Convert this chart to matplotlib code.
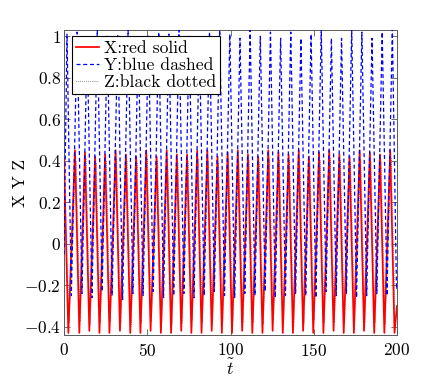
import matplotlib
matplotlib.use("Agg")
import matplotlib.pyplot as plt
from matplotlib.ticker import FixedLocator, FixedFormatter

plt.rcParams['font.family'] = ['cmr10', 'DejaVu Serif']
plt.rcParams['mathtext.fontset'] = 'cm'
plt.rcParams['axes.unicode_minus'] = False

# ---- data (extrema of each oscillation) ----
x_start = [0.0, 0.41]
x_peak_t = [6.6, 12.6, 18.7, 24.7, 31.0, 37.2, 43.3, 49.4, 55.6, 61.7, 67.8, 73.9,
            80.0, 86.1, 92.2, 98.3, 104.4, 110.5, 116.6, 122.7, 128.8, 134.9,
            141.0, 147.1, 153.2, 159.3, 165.4, 171.5, 177.6, 183.7, 189.8, 195.9]
x_peak_v = [0.45, 0.44, 0.42, 0.43, 0.45, 0.43, 0.42, 0.45, 0.42, 0.45, 0.43, 0.43,
            0.45, 0.45, 0.42, 0.44, 0.45, 0.43, 0.42, 0.45, 0.44, 0.43,
            0.45, 0.42, 0.44, 0.45, 0.43, 0.42, 0.45, 0.44, 0.43, 0.45]
x_trough_t = [2.6, 9.2, 15.2, 21.3, 27.3, 33.6, 39.8, 45.9, 52.0, 58.2, 64.3, 70.4,
              76.5, 82.6, 88.7, 94.8, 100.9, 107.0, 113.1, 119.2, 125.3, 131.4,
              137.5, 143.6, 149.7, 155.8, 161.9, 168.0, 174.1, 180.2, 186.3, 192.4, 198.5]
x_trough_v = [-0.43, -0.43, -0.42, -0.43, -0.43, -0.42, -0.43, -0.43, -0.42, -0.43, -0.43,
              -0.42, -0.43, -0.43, -0.42, -0.43, -0.43, -0.42, -0.43, -0.43, -0.42,
              -0.43, -0.43, -0.42, -0.43, -0.43, -0.42, -0.43, -0.43, -0.42, -0.43,
              -0.43, -0.43]
x_end = [200.0, -0.30]

y_start = [0.0, -0.05]
y_peak_t = [1.8, 7.9, 13.9, 20.0, 26.0, 32.3, 38.5, 44.6, 50.7, 56.9, 63.0, 69.1, 75.2,
            81.3, 87.4, 93.5, 99.6, 105.7, 111.8, 117.9, 124.0, 130.1, 136.2,
            142.3, 148.4, 154.5, 160.6, 166.7, 172.8, 178.9, 185.0, 191.1, 197.2]
y_peak_v = [1.01, 1.02, 0.99, 1.03, 1.00, 1.01, 1.03, 0.99, 1.00, 1.02, 1.01, 1.03, 1.00,
            0.99, 1.02, 1.03, 1.01, 0.99, 1.03, 1.00, 1.02, 0.99, 1.02,
            0.99, 1.01, 1.035, 0.99, 0.99, 1.03, 1.02, 0.99, 1.02, 1.035]
y_trough_t = [4.4, 10.8, 16.8, 22.9, 28.9, 35.2, 41.4, 47.5, 53.6, 59.8, 65.9, 72.0,
              78.1, 84.2, 90.3, 96.4, 102.5, 108.6, 114.7, 120.8, 126.9, 133.0,
              139.1, 145.2, 151.3, 157.4, 163.5, 169.6, 175.7, 181.8, 187.9, 194.0, 199.7]
y_trough_v = [-0.25, -0.24, -0.26, -0.23, -0.25, -0.27, -0.24, -0.25, -0.23, -0.26, -0.25,
              -0.24, -0.26, -0.25, -0.23, -0.25, -0.26, -0.24, -0.25, -0.23, -0.26,
              -0.25, -0.24, -0.25, -0.26, -0.23, -0.25, -0.24, -0.26, -0.25, -0.24,
              -0.25, -0.22]
y_end = [200.0, -0.21]

z_start = [0.0, 0.38]
z_peak_t = [7.2, 13.2, 19.3, 25.3, 31.6, 37.8, 43.9, 50.0, 56.2, 62.3, 68.4, 74.5,
            80.6, 86.7, 92.8, 98.9, 105.0, 111.1, 117.2, 123.3, 129.4, 135.5,
            141.6, 147.7, 153.8, 159.9, 166.0, 172.1, 178.2, 184.3, 190.4, 196.5]
z_peak_v = [0.40, 0.41, 0.39, 0.40, 0.41, 0.40, 0.39, 0.41, 0.40, 0.41, 0.39, 0.40,
            0.41, 0.40, 0.39, 0.41, 0.40, 0.40, 0.39, 0.41, 0.40, 0.40,
            0.41, 0.39, 0.40, 0.41, 0.40, 0.39, 0.41, 0.40, 0.40, 0.41]
z_trough_t = [3.1, 9.7, 15.7, 21.8, 27.8, 34.1, 40.3, 46.4, 52.5, 58.7, 64.8, 70.9,
              77.0, 83.1, 89.2, 95.3, 101.4, 107.5, 113.6, 119.7, 125.8, 131.9,
              138.0, 144.1, 150.2, 156.3, 162.4, 168.5, 174.6, 180.7, 186.8, 192.9, 199.0]
z_trough_v = [-0.38, -0.37, -0.39, -0.38, -0.37, -0.38, -0.39, -0.38, -0.37, -0.38, -0.39,
              -0.38, -0.37, -0.38, -0.39, -0.38, -0.37, -0.38, -0.38, -0.39, -0.37,
              -0.38, -0.38, -0.39, -0.37, -0.38, -0.38, -0.39, -0.37, -0.38, -0.38,
              -0.39, -0.38]
z_end = [200.0, -0.30]

series_labels = ["X:red solid", "Y:blue dashed", "Z:black dotted"]
x_ticks = [0, 50, 100, 150, 200]
x_tick_labels = ["$0$", "$50$", "$100$", "$150$", "$200$"]
y_ticks = [-0.4, -0.2, 0, 0.2, 0.4, 0.6, 0.8, 1.0]
y_tick_labels = ["$-0.4$", "$-0.2$", "$0$", "$0.2$", "$0.4$", "$0.6$", "$0.8$", "$1$"]
x_label = r"$\tilde{t}$"
y_label = "X Y Z"


def assemble(start, pt, pv, tt, tv, end):
    pts = [tuple(start)] + list(zip(pt, pv)) + list(zip(tt, tv)) + [tuple(end)]
    pts.sort(key=lambda p: p[0])
    return [p[0] for p in pts], [p[1] for p in pts]


tx, vx = assemble(x_start, x_peak_t, x_peak_v, x_trough_t, x_trough_v, x_end)
ty, vy = assemble(y_start, y_peak_t, y_peak_v, y_trough_t, y_trough_v, y_end)
tz, vz = assemble(z_start, z_peak_t, z_peak_v, z_trough_t, z_trough_v, z_end)

fig = plt.figure(figsize=(4.36, 3.78), dpi=100)
ax = fig.add_axes([64 / 436, 1 - 335 / 378, (397 - 64) / 436, (335 - 30) / 378])

ax.plot(tx, vx, color=(1, 0, 0), lw=1.25, ls='-', label=series_labels[0], zorder=3)
ax.plot(ty, vy, color=(0, 0, 1), lw=0.9, ls=(0, (3.2, 2.2)), label=series_labels[1], zorder=4)
ax.plot(tz, vz, color='0.25', lw=0.6, ls=(0, (0.7, 1.6)), label=series_labels[2], zorder=2)

ax.set_xlim(0, 200)
ax.set_ylim(-0.44, 1.03)
ax.xaxis.set_major_locator(FixedLocator(x_ticks))
ax.xaxis.set_major_formatter(FixedFormatter(x_tick_labels))
ax.yaxis.set_major_locator(FixedLocator(y_ticks))
ax.yaxis.set_major_formatter(FixedFormatter(y_tick_labels))
ax.tick_params(direction='in', length=4, width=0.6, color='0.35', labelsize=12.5,
               top=True, right=True)
ax.tick_params(axis='y', pad=2)
ax.tick_params(axis='x', pad=5)
for s in ax.spines.values():
    s.set_color('0.35')
    s.set_linewidth(0.7)

ax.set_xlabel(x_label, fontsize=13, labelpad=-1)
ax.set_ylabel(y_label, fontsize=12.5, labelpad=-3)

leg = ax.legend(loc='upper left', bbox_to_anchor=(72 / 436, 1 - 36 / 378),
                bbox_transform=fig.transFigure, borderaxespad=0, fancybox=False,
                framealpha=1, edgecolor='k', fontsize=12.7, handlelength=1.3,
                handletextpad=0.25, labelspacing=0.1, borderpad=0.25)
leg.get_frame().set_linewidth(0.8)

fig.savefig("out.png", dpi=100)
